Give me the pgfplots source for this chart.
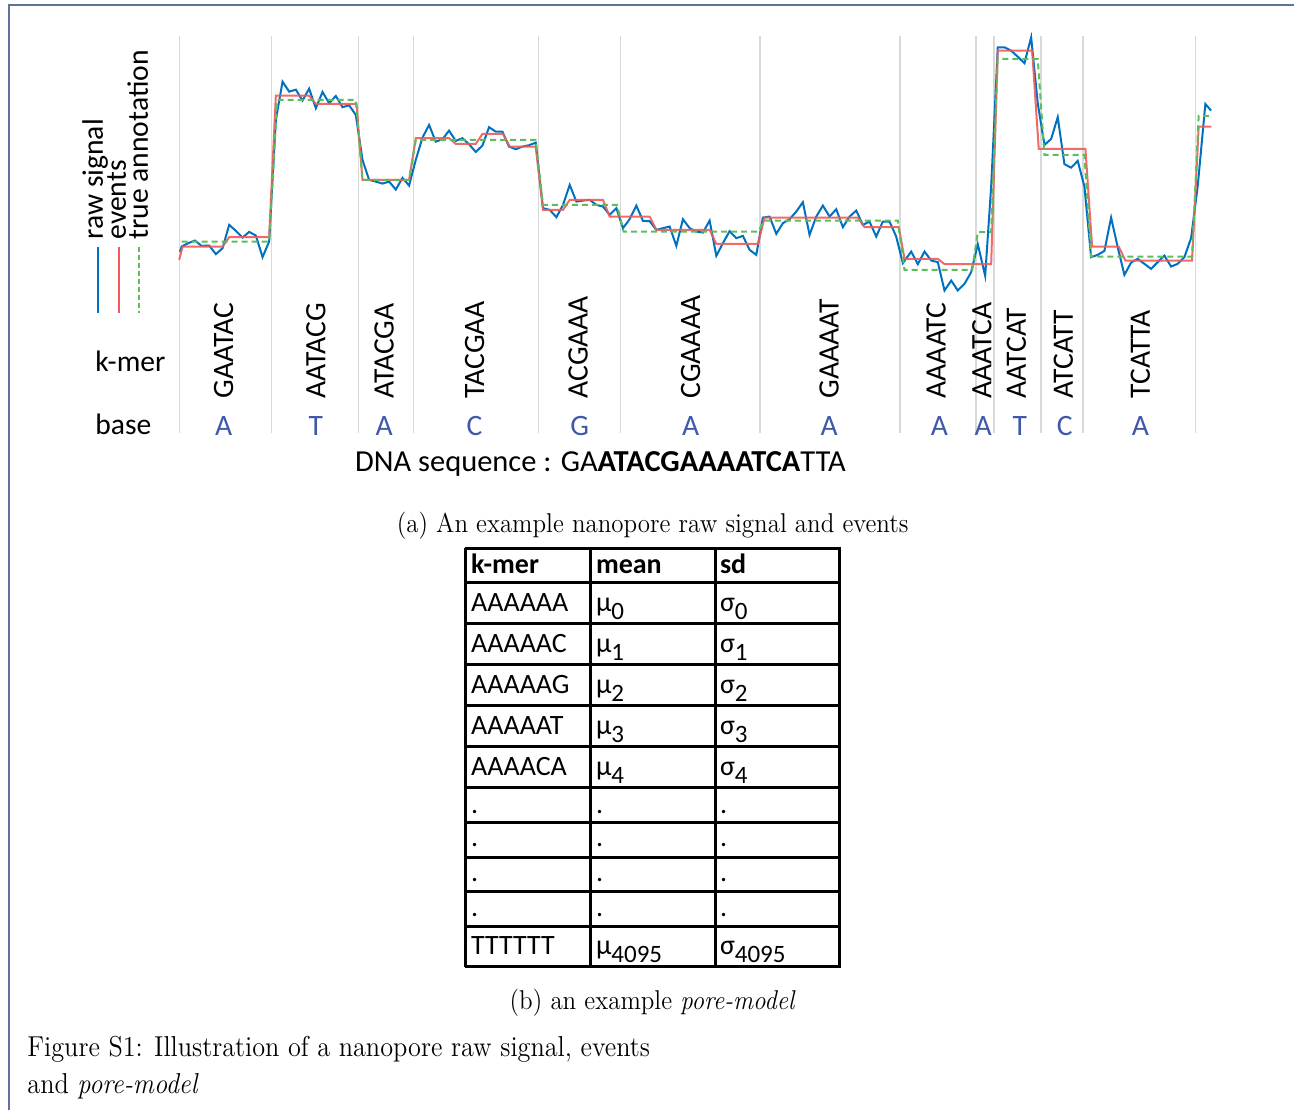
\documentclass[border=0pt]{standalone}
\usepackage{fontspec}
\usepackage{graphicx}
\usepackage{pgfplots}
\pgfplotsset{compat=1.18}
\newfontfamily\carl{Carlito}
\definecolor{sigblue}{RGB}{0,112,192}
\definecolor{evred}{RGB}{240,90,90}
\definecolor{truegreen}{RGB}{90,190,90}
\definecolor{gridgray}{RGB}{217,217,217}
\definecolor{baseblue}{RGB}{63,88,170}
\definecolor{framecol}{RGB}{95,115,155}
\newcommand\cf{\carl\fontsize{14.8pt}{17pt}\selectfont}
\newcommand\tf{\carl\fontsize{14pt}{16pt}\selectfont}
\newcommand\lm{\fontsize{13.6pt}{16pt}\selectfont}
\newcommand\sub[1]{\raisebox{-4pt}{\carl\fontsize{12.5pt}{14pt}\selectfont #1}}
\begin{document}
\begin{tikzpicture}
\begin{axis}[x=0.5pt,y=0.5pt,y dir=reverse,xmin=0,xmax=1295,ymin=0,ymax=1111,
  hide axis,clip=false]
\path (0,0) rectangle (1295,1111);
% frame
\draw[framecol,line width=0.7pt] (9,1111) -- (9,5) -- (1295,5);
% grid lines between k-mers
\pgfplotsinvokeforeach{179.5,271.5,358.5,413.5,538.5,620.5,760.5,900.5,976.5,994.5,1041.5,1083.5,1196.5}{
  \draw[gridgray,line width=0.6pt] (#1,36) -- (#1,433);
}
% raw signal
\addplot[sigblue,line width=1pt] coordinates {
(180,252) (181.7,246.7) (188.3,243.3) (195,240.7) (201.7,246) (209.3,245.7) (216,254.3) (222.7,248.3)
(229.3,225) (236,231) (242.7,237.7) (249.3,232) (256,235.7) (262.7,257.3) (269.3,241.7) (276,120)
(282.7,81.7) (289.3,91.7) (296,89.7) (302.7,100.7) (309.3,88.7) (316,108.3) (322.7,92) (329.3,103.3)
(336,96) (342.7,107.3) (349.3,105.3) (356,115) (362.7,160) (369.3,180) (376,181.7) (382.7,183.7)
(389.3,181.7) (396,189.7) (402.7,178) (409.3,185.7) (416,160) (422.7,137.7) (429.3,125) (436,141.7)
(442.7,139.3) (449.3,130.7) (456,141) (462.7,138.3) (469.3,144.3) (476,152) (482.7,145.7) (489.3,127.3)
(496,131.7) (502.7,131.7) (509.3,146.7) (516,149.3) (522.7,146.7) (529.3,145.3) (536,142.7) (543.3,208.3)
(550,210) (556.7,217.3) (563.3,205) (570,185) (576.7,201.7) (583.3,200.7) (590,200) (596.7,205)
(603.3,206.7) (610,215) (616.7,208.3) (623.3,228.3) (630,219.3) (636.7,205.7) (643.3,221) (650,221.3)
(656.7,230) (663.3,228.3) (670,226.7) (676.7,246) (683.3,219.3) (690,228.3) (696.7,231.7) (703.3,232.7)
(710,220.7) (716.7,256) (723.3,243.3) (730,231.3) (736.7,238.3) (743.3,236) (750,250) (756.7,255)
(763.3,217.7) (770,216.7) (776.7,234) (783.3,223.3) (790,219.3) (796.7,211.7) (803.3,202.3) (810,235)
(816.7,216.7) (823.3,205.7) (830,216.7) (836.7,209.3) (843.3,227.3) (850,216.7) (856.7,210.7) (863.3,225)
(870,221.7) (876.7,236.7) (883.3,221.7) (890,221.7) (896.7,236.7) (903.3,263.3) (911.7,251.7) (918.3,264.3)
(925,251.7) (931.7,260.7) (938.3,262.3) (945,290.7) (951.7,280.7) (958.3,290.7) (965,284) (971.7,272.3)
(978.3,244.3) (985.7,276) (991.7,186.7) (998.3,47.3) (1005,47.3) (1011.7,50.7) (1018.3,56.7) (1025,63.3)
(1031.7,37.3) (1038.3,103.3) (1045,145) (1051.7,139) (1058.3,117.3) (1065,164.3) (1071.7,167.7) (1078.3,161)
(1085,186.7) (1091.7,257.3) (1098.3,255) (1105,251) (1111.7,217.7) (1118.3,247.3) (1125,275) (1131.7,262.7)
(1138.3,259) (1145,264) (1151.7,269) (1158.3,262.3) (1165,255.7) (1171.7,266.7) (1178.3,264) (1185,257.3)
(1191.7,238.3) (1198.3,186.7) (1206,104) (1211.7,110.7)
};
% events
\addplot[evred,line width=1pt,opacity=0.9] coordinates {
(179.3,260) (182.7,246.7) (222.7,246.7) (229.3,237.3) (269.3,237.3) (276,95.7) (309.3,95.7) (316,104)
(356.7,104) (362.7,180) (409.3,180) (416,138.3) (449.3,138.3) (456,144) (476,144) (482.7,134)
(503.3,134) (510,146.7) (536,146.7) (543.3,210) (563.3,210) (570,200) (603.3,200) (610,216.7)
(650,216.7) (656.7,230) (710,230) (716.7,244) (758.3,244) (765,217.7) (858.3,217.7) (865,227.3)
(899.3,227.3) (905,259) (938.3,259) (945,264.3) (991.7,264.3) (998.3,50.7) (1032.7,50.7) (1039.3,149)
(1086,149) (1092.7,246.7) (1119.3,246.7) (1126,260.7) (1192.7,260.7) (1199.3,126.7) (1212,126.7)
};
% true annotation
\addplot[truegreen,line width=1pt,dash pattern=on 3pt off 2pt] coordinates {
(181.7,241.7) (269.3,241.7) (277.3,100) (356,100) (362.7,180) (409.3,180) (416,140) (536,140)
(543.3,205) (617.3,205) (624,231.7) (758.3,231.7) (765,220.7) (898.3,220.7) (905,270) (972.7,270)
(978.3,232.3) (991.7,232.3) (998.3,59) (1038.3,59) (1045,155) (1085,155) (1091.7,256.7) (1192.7,256.7)
(1199.3,116) (1212,116)
};
% legend
\draw[sigblue,line width=0.8pt] (98,247) -- (98,313);
\draw[evred,line width=0.8pt] (119,247) -- (119,313);
\draw[truegreen,line width=0.8pt,dash pattern=on 2.5pt off 1.5pt] (139,247) -- (139,313);
\node[rotate=90,anchor=base west,inner sep=0pt,font=\cf] at (103,240) {raw signal};
\node[rotate=90,anchor=base west,inner sep=0pt,font=\cf] at (126,240) {events};
\node[rotate=90,anchor=base west,inner sep=0pt,font=\cf] at (148,240) {true annotation};
% row labels
\node[anchor=base west,inner sep=0pt,font=\cf] at (95,372) {k-mer};
\node[anchor=base west,inner sep=0pt,font=\cf] at (95,435) {base};
% k-mers
\node[rotate=90,anchor=west,inner sep=0pt,font=\cf] at (223.7,399) {GAATAC};
\node[rotate=90,anchor=west,inner sep=0pt,font=\cf] at (316,399) {AATACG};
\node[rotate=90,anchor=west,inner sep=0pt,font=\cf] at (384.4,399) {ATACGA};
\node[rotate=90,anchor=west,inner sep=0pt,font=\cf] at (474.8,399) {TACGAA};
\node[rotate=90,anchor=west,inner sep=0pt,font=\cf] at (578.5,399) {ACGAAA};
\node[rotate=90,anchor=west,inner sep=0pt,font=\cf] at (691,399) {CGAAAA};
\node[rotate=90,anchor=west,inner sep=0pt,font=\cf] at (829.6,399) {GAAAAT};
\node[rotate=90,anchor=west,inner sep=0pt,font=\cf] at (936.7,399) {AAAATC};
\node[rotate=90,anchor=west,inner sep=0pt,font=\cf] at (982.3,399) {AAATCA};
\node[rotate=90,anchor=west,inner sep=0pt,font=\cf] at (1017,399) {AATCAT};
\node[rotate=90,anchor=west,inner sep=0pt,font=\cf] at (1064,399) {ATCATT};
\node[rotate=90,anchor=west,inner sep=0pt,font=\cf] at (1141,399) {TCATTA};
% bases
\node[inner sep=0pt,font=\cf,text=baseblue] at (223.7,426) {A};
\node[inner sep=0pt,font=\cf,text=baseblue] at (316,426) {T};
\node[inner sep=0pt,font=\cf,text=baseblue] at (384.4,426) {A};
\node[inner sep=0pt,font=\cf,text=baseblue] at (474.8,426) {C};
\node[inner sep=0pt,font=\cf,text=baseblue] at (579.9,426) {G};
\node[inner sep=0pt,font=\cf,text=baseblue] at (691,426) {A};
\node[inner sep=0pt,font=\cf,text=baseblue] at (829.6,426) {A};
\node[inner sep=0pt,font=\cf,text=baseblue] at (940,426) {A};
\node[inner sep=0pt,font=\cf,text=baseblue] at (983.6,426) {A};
\node[inner sep=0pt,font=\cf,text=baseblue] at (1020.4,426) {T};
\node[inner sep=0pt,font=\cf,text=baseblue] at (1065.3,426) {C};
\node[inner sep=0pt,font=\cf,text=baseblue] at (1141,426) {A};
% DNA sequence
\node[anchor=base west,inner sep=0pt,font=\carl\fontsize{15.25pt}{17pt}\selectfont] at (355,472) {DNA sequence : GA\textbf{ATACGAAAATCA}TTA};
% caption a
\node[anchor=base,inner sep=0pt] at (653,533) {\resizebox{256pt}{\height}{\lm (a) An example nanopore raw signal and events}};
% table
\pgfplotsinvokeforeach{549,583,624,665,706,747,788,823,858,892,927,967}{
  \draw[line width=1.5pt] (465,#1) -- (841,#1);
}
\pgfplotsinvokeforeach{465.5,590.5,715.5,840}{
  \draw[line width=1.5pt] (#1,548) -- (#1,968);
}
\node[anchor=base west,inner sep=0pt,font=\tf\bfseries] at (471,574) {k-mer};
\node[anchor=base west,inner sep=0pt,font=\tf\bfseries] at (596,574) {mean};
\node[anchor=base west,inner sep=0pt,font=\tf\bfseries] at (720,574) {sd};
\node[anchor=base west,inner sep=0pt,font=\tf] at (471,612) {AAAAAA};
\node[anchor=base west,inner sep=0pt,font=\tf] at (596,612) {μ\sub{0}};
\node[anchor=base west,inner sep=0pt,font=\tf] at (720,612) {σ\sub{0}};
\node[anchor=base west,inner sep=0pt,font=\tf] at (471,652.5) {AAAAAC};
\node[anchor=base west,inner sep=0pt,font=\tf] at (596,652.5) {μ\sub{1}};
\node[anchor=base west,inner sep=0pt,font=\tf] at (720,652.5) {σ\sub{1}};
\node[anchor=base west,inner sep=0pt,font=\tf] at (471,694) {AAAAAG};
\node[anchor=base west,inner sep=0pt,font=\tf] at (596,694) {μ\sub{2}};
\node[anchor=base west,inner sep=0pt,font=\tf] at (720,694) {σ\sub{2}};
\node[anchor=base west,inner sep=0pt,font=\tf] at (471,735) {AAAAAT};
\node[anchor=base west,inner sep=0pt,font=\tf] at (596,735) {μ\sub{3}};
\node[anchor=base west,inner sep=0pt,font=\tf] at (720,735) {σ\sub{3}};
\node[anchor=base west,inner sep=0pt,font=\tf] at (471,776) {AAAACA};
\node[anchor=base west,inner sep=0pt,font=\tf] at (596,776) {μ\sub{4}};
\node[anchor=base west,inner sep=0pt,font=\tf] at (720,776) {σ\sub{4}};
\pgfplotsinvokeforeach{814,847,882,917}{
  \node[anchor=base west,inner sep=0pt,font=\tf] at (471,#1) {.};
  \node[anchor=base west,inner sep=0pt,font=\tf] at (596,#1) {.};
  \node[anchor=base west,inner sep=0pt,font=\tf] at (720,#1) {.};
}
\node[anchor=base west,inner sep=0pt,font=\tf] at (471,955) {TTTTTT};
\node[anchor=base west,inner sep=0pt,font=\tf] at (596,955) {μ\sub{4095}};
\node[anchor=base west,inner sep=0pt,font=\tf] at (720,955) {σ\sub{4095}};
% caption b
\node[anchor=base,inner sep=0pt] at (653,1010) {\resizebox{143pt}{\height}{\lm (b) an example \textit{pore-model}}};
% figure caption
\node[anchor=base west,inner sep=0pt] at (27,1057) {\resizebox{311.5pt}{\height}{\fontsize{14.4pt}{18.3pt}\selectfont\begin{tabular}[t]{@{}l@{}}Figure S1: Illustration of a nanopore raw signal, events\\ and \textit{pore-model}\end{tabular}}};
\end{axis}
\end{tikzpicture}
\end{document}
